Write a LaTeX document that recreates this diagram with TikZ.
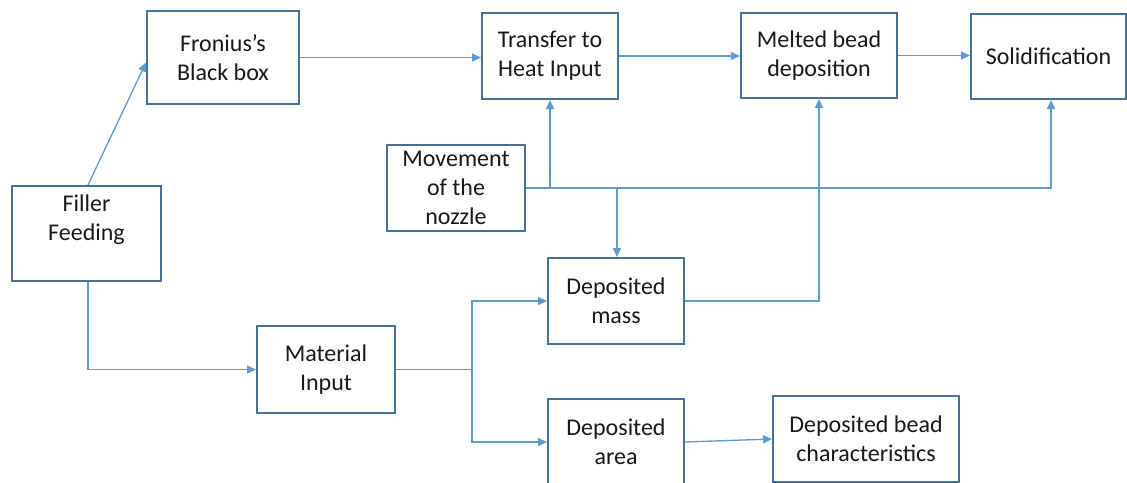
\documentclass[tikz,border=0pt]{standalone}
\usepackage{fontspec}
\setmainfont{Carlito}
\usetikzlibrary{arrows.meta,calc}
\definecolor{boxblue}{HTML}{41719C}
\definecolor{linkblue}{HTML}{5B9BD5}
\tikzset{
  stepbox/.style={draw=boxblue, line width=2pt, fill=white, inner sep=0pt,
    align=center, font=\fontsize{24}{29}\selectfont, text=black!90},
  txt/.style={align=center, font=\fontsize{24}{29}\selectfont, text=black!90, inner sep=0pt},
  link/.style={draw=linkblue, line width=1.3pt},
  arr/.style={link, -{Triangle[length=9pt,width=8pt]}}
}
\begin{document}
\begin{tikzpicture}[x=1pt,y=-1pt]
\useasboundingbox (0,0) rectangle (1127,482);
\clip (0,0) rectangle (1127,482);
\fill[white] (0,0) rectangle (1127,482);

% process boxes
\node[stepbox, minimum width=152pt, minimum height=93pt] (fronius) at (223,57.5) {Fronius’s\\Black box};
\node[stepbox, minimum width=149pt, minimum height=95pt] (filler) at (86.5,233.5) {};
\node[txt] (fillertext) at (86.5,220) {Filler\\Feeding};
\node[stepbox, minimum width=136pt, minimum height=86pt] (transfer) at (550,56) {Transfer to\\Heat Input};
\node[stepbox, minimum width=156pt, minimum height=85pt] (melted) at (819,55.5) {Melted bead\\deposition};
\node[stepbox, minimum width=155pt, minimum height=85pt] (solid) at (1048.5,56.5) {Solidification};
\node[stepbox, minimum width=138pt, minimum height=86pt] (movement) at (456,188) {Movement\\of the\\nozzle};
\node[stepbox, minimum width=136pt, minimum height=86pt] (mass) at (616,301) {Deposited\\mass};
\node[stepbox, minimum width=138pt, minimum height=87pt] (material) at (326,369.5) {Material\\Input};
\node[stepbox, minimum width=136pt, minimum height=86pt] (area) at (616,442) {Deposited\\area};
\node[stepbox, minimum width=186pt, minimum height=86pt] (bead) at (866,439) {Deposited bead\\characteristics};

% junction points
\coordinate (solidin) at ($(solid.south)+(2.5,0)$);
\coordinate (split) at (472,369.5);

% upper chain
\draw[arr] ($(filler.north)+(1.5,0)$) -- ($(fronius.west)+(0,5)$);
\draw[arr] (fronius.east) -- (fronius.east -| transfer.west);
\draw[arr] (transfer.east) -- (transfer.east -| melted.west);
\draw[arr] (melted.east) -- (melted.east -| solid.west);

% nozzle movement feeds
\draw[arr] (movement.east) -| (solidin);
\draw[arr] (movement.east -| transfer.south) -- (transfer.south);
\draw[arr] ($(movement.east -| mass.north)+(1,0)$) -- ($(mass.north)+(1,0)$);
\draw[arr] (mass.east) -| (melted.south);

% material path
\draw[arr] ($(filler.south)+(1.5,0)$) |- (material.west);
\draw[link] (material.east) -- (split);
\draw[arr] (split) |- (mass.west);
\draw[arr] (split) |- (area.west);
\draw[arr] (area.east) -- (bead.west);
\end{tikzpicture}
\end{document}
